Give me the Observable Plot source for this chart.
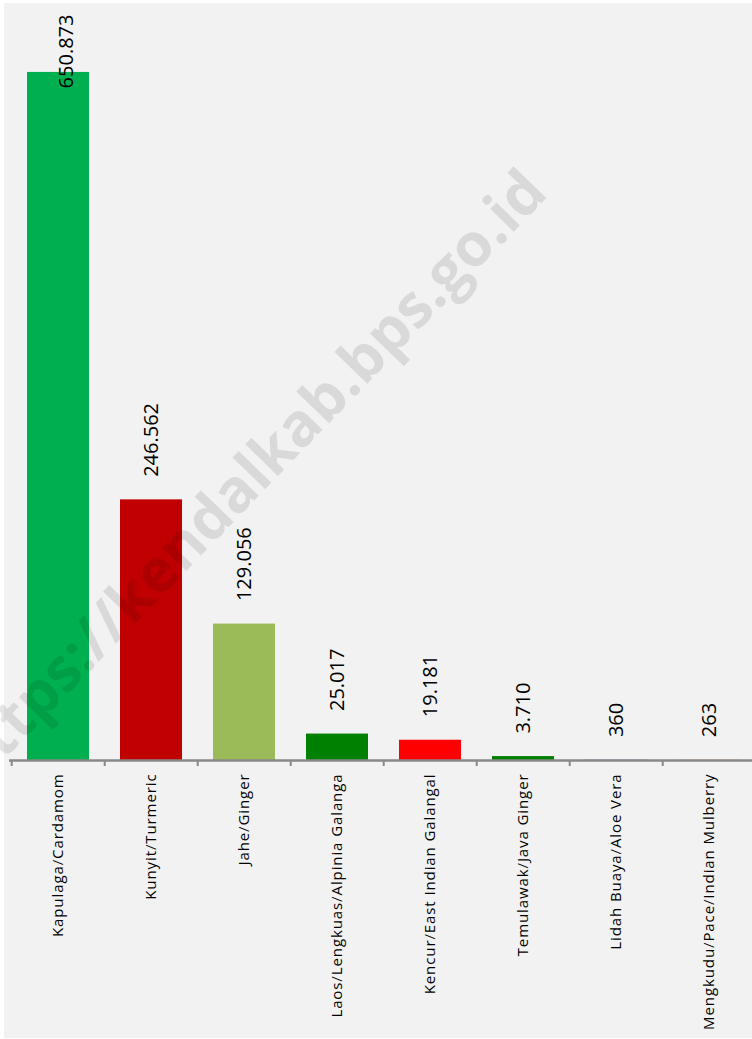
<!DOCTYPE html>
<html><head><meta charset="utf-8">
<script src="https://cdn.jsdelivr.net/npm/d3@7"></script>
<script src="https://cdn.jsdelivr.net/npm/@observablehq/plot@0.6"></script>
<style>
html,body{margin:0;padding:0;background:#fff;}
#wrap{position:relative;width:752px;height:1039px;overflow:hidden;}
#panel{position:absolute;left:4px;top:3px;width:748px;height:1035px;background:#f2f2f2;}
#chart{position:absolute;left:0;top:0;}
</style></head><body>
<div id="wrap"><div id="panel"></div><div id="chart"></div></div>
<script>
const categories = ["Kapulaga/Cardamom","Kunyit/Turmeric","Jahe/Ginger","Laos/Lengkuas/Alpinia Galanga","Kencur/East Indian Galangal","Temulawak/Java Ginger","Lidah Buaya/Aloe Vera","Mengkudu/Pace/Indian Mulberry"];
const values = [650873, 246562, 129056, 25017, 19181, 3710, 360, 263];
const valueLabels = ["650.873","246.562","129.056","25.017","19.181","3.710","360","263"];
const colors = ["#00B050","#C00000","#9BBB59","#008000","#FF0000","#008000","#4F81BD","#F79646"];
const yMax = 700000;
const watermark = "https://kendalkab.bps.go.id";

const data = categories.map((c, i) => ({category: c, value: values[i], label: valueLabels[i], color: colors[i]}));

const W = 752, H = 1039, mL = 9, mR = -5.6;
const step = (W - mL - mR) / categories.length;

const plot = Plot.plot({
  width: W, height: H,
  marginTop: 20, marginBottom: 279, marginLeft: mL, marginRight: mR,
  style: {background: "transparent", fontFamily: "'Open Sans', sans-serif", overflow: "visible"},
  x: {domain: categories, paddingInner: 0.33, paddingOuter: 0.165, axis: null},
  y: {domain: [0, yMax], axis: null},
  marks: [
    Plot.barY(data, {x: "category", y: "value", fill: "color"}),
    Plot.ruleY([0], {stroke: "#898989", strokeWidth: 2.5}),
    Plot.ruleX(data, {x: "category", y1: 0, y2: 0, dx: -step / 2, insetBottom: -6, stroke: "#898989", strokeWidth: 2}),
    Plot.text(data, {x: "category", y: 0, text: "category", rotate: -90, textAnchor: "end", dy: 13, fontSize: 15, fill: "#000"}),
    Plot.text(data.slice(1), {x: "category", y: "value", text: "label", rotate: -90, textAnchor: "start", dy: -23, fontSize: 20, fill: "#000"}),
    Plot.text(data.slice(0, 1), {x: "category", frameAnchor: "top", text: "label", rotate: -90, textAnchor: "end", dy: -6, fontSize: 20, fill: "#000"}),
    Plot.text([watermark], {text: d => d, frameAnchor: "middle", dx: -135, dy: 88, rotate: -46, fontSize: 60, fontWeight: 700, fill: "#000", fillOpacity: 0.1})
  ]
});
const textGroups = plot.querySelectorAll('g[aria-label="text"]');
if (textGroups.length) textGroups[0].style.letterSpacing = "0.9px";
document.getElementById("chart").appendChild(plot);
</script>
</body></html>
